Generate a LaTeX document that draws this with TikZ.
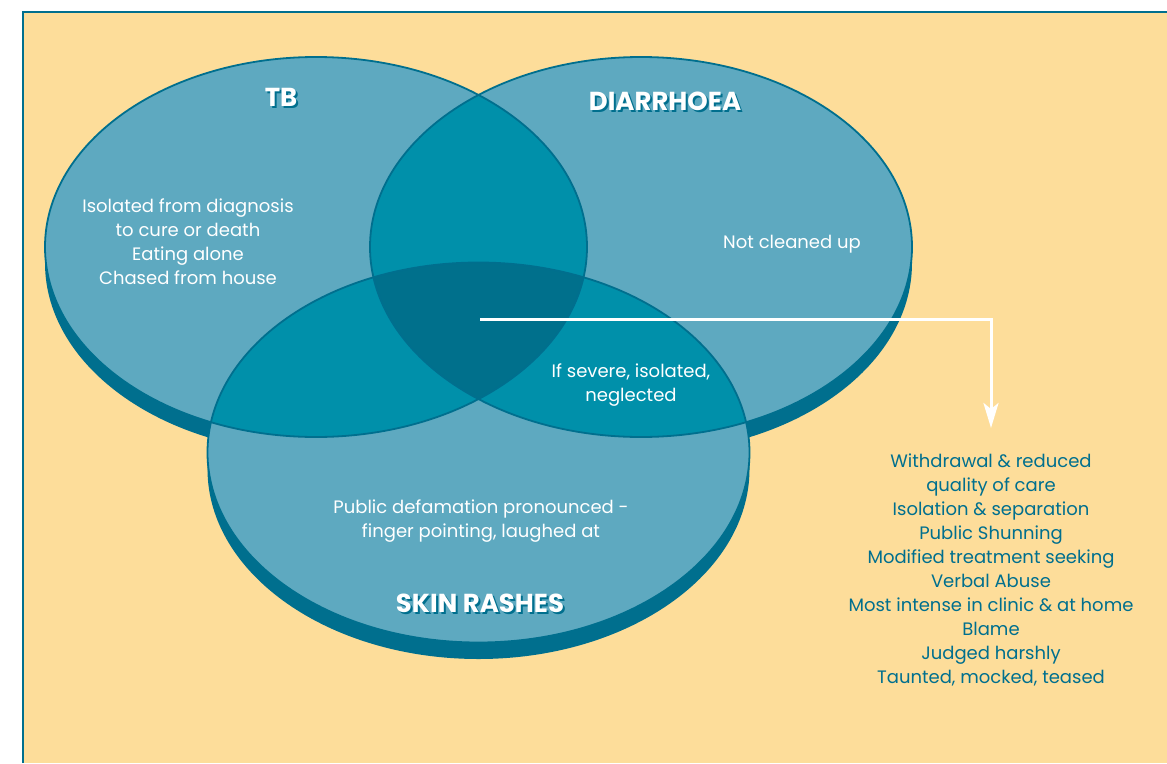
\documentclass[tikz,border=0pt]{standalone}
\usepackage{fontspec}
\setmainfont{Poppins}
\usetikzlibrary{arrows.meta}
\definecolor{bgc}{RGB}{253,221,154}
\definecolor{lightc}{RGB}{94,169,192}
\definecolor{midc}{RGB}{0,144,170}
\definecolor{darkc}{RGB}{0,112,140}
\definecolor{edgec}{RGB}{0,111,142}
\tikzset{
  bodytext/.style={text=white, align=center, inner sep=0, font=\fontsize{18}{24}\selectfont},
  listtext/.style={text=edgec, align=center, inner sep=0, font=\fontsize{18}{24}\selectfont},
  headtext/.style={text=white, inner sep=0, font=\fontsize{26}{30}\selectfont\bfseries},
  headshadow/.style={text=edgec, inner sep=0, font=\fontsize{26}{30}\selectfont\bfseries},
  outline/.style={draw=edgec, line width=1.8},
  whitearrow/.style={draw=white, line width=3, -{Stealth[length=25, width=15, inset=6]}}
}
\begin{document}
\begin{tikzpicture}[x=1pt, y=-1pt]
\useasboundingbox (0,0) rectangle (1167,763);
\fill[white] (0,0) rectangle (1167,763);
\fill[bgc] (23,12) rectangle (1167,763);
\draw[edgec, line width=1.2] (23,763) -- (23,12) -- (1167,12);
% shadows
\fill[edgec] (316,263) ellipse [x radius=271, y radius=190];
\fill[edgec] (641,263) ellipse [x radius=271, y radius=190];
\fill[edgec] (478.5,469) ellipse [x radius=271, y radius=190];
% fills
\fill[lightc] (316,247) ellipse [x radius=271, y radius=190];
\fill[lightc] (641,247) ellipse [x radius=271, y radius=190];
\fill[lightc] (478.5,452.5) ellipse [x radius=271, y radius=190];
% pairwise overlaps
\begin{scope}
  \clip (316,247) ellipse [x radius=271, y radius=190];
  \fill[midc] (641,247) ellipse [x radius=271, y radius=190];
  \fill[midc] (478.5,452.5) ellipse [x radius=271, y radius=190];
\end{scope}
\begin{scope}
  \clip (641,247) ellipse [x radius=271, y radius=190];
  \fill[midc] (478.5,452.5) ellipse [x radius=271, y radius=190];
  \clip (316,247) ellipse [x radius=271, y radius=190];
  \fill[darkc] (478.5,452.5) ellipse [x radius=271, y radius=190];
\end{scope}
% outlines
\draw[outline] (316,247) ellipse [x radius=271, y radius=190];
\draw[outline] (641,247) ellipse [x radius=271, y radius=190];
\draw[outline] (478.5,452.5) ellipse [x radius=271, y radius=190];
% headings
\node[headshadow] at (283,99) {TB};
\node[headtext] (tb) at (281,97) {TB};
\node[headshadow] at (667,103) {DIARRHOEA};
\node[headtext] (dia) at (665,101) {DIARRHOEA};
\node[headshadow] at (482,605) {SKIN RASHES};
\node[headtext] (skin) at (480,603) {SKIN RASHES};
% texts
\node[bodytext] (tbtext) at (188,242) {Isolated from diagnosis\\to cure or death\\Eating alone\\Chased from house};
\node[bodytext] (diatext) at (792,244) {Not cleaned up};
\node[bodytext] (tdtext) at (631,385) {If severe, isolated,\\neglected};
\node[bodytext] (skintext) at (481,521) {Public defamation pronounced -\\finger pointing, laughed at};
\node[listtext] (list) at (991,570) {Withdrawal \& reduced\\quality of care\\Isolation \& separation\\Public Shunning\\Modified treatment seeking\\Verbal Abuse\\Most intense in clinic \& at home\\Blame\\Judged harshly\\Taunted, mocked, teased};
% arrow
\coordinate (core) at (480,319);
\coordinate (tip) at (991,428);
\draw[whitearrow] (core) -| (tip);
\end{tikzpicture}
\end{document}
